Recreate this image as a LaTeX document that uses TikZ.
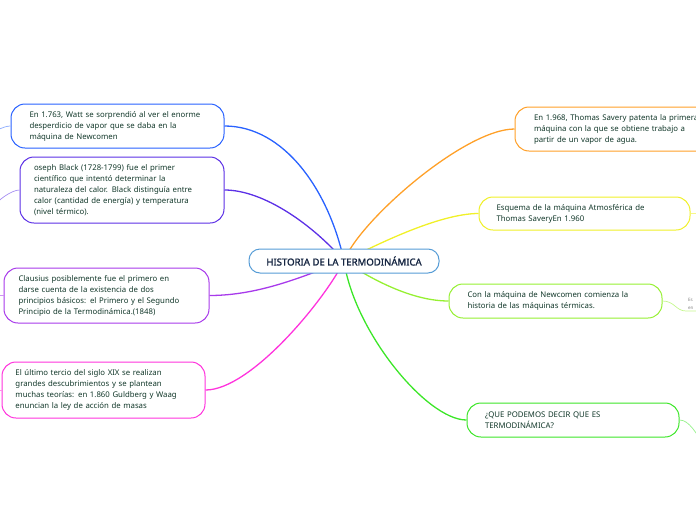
\documentclass[tikz,border=0pt]{standalone}
\usepackage{fontspec}
\setmainfont{Noto Sans}
\newfontfamily\negrita[FakeBold=1.6]{Noto Sans}
\usepackage{xcolor}
\usepackage{tikz}
\usetikzlibrary{backgrounds}
\definecolor{texto}{RGB}{18,56,42}
\definecolor{marino}{RGB}{22,38,66}
\definecolor{celeste}{RGB}{86,156,214}
\definecolor{azul}{RGB}{41,98,255}
\definecolor{indigo}{RGB}{92,48,230}
\definecolor{morado}{RGB}{168,58,235}
\definecolor{magenta}{RGB}{255,51,221}
\definecolor{naranja}{RGB}{255,160,40}
\definecolor{amarillo}{RGB}{240,240,40}
\definecolor{lima}{RGB}{150,240,50}
\definecolor{verde}{RGB}{60,230,40}
\tikzset{
  idea/.style={draw=#1,fill=white,line width=1pt,rounded corners=14pt,align=left,
    text width=176pt,text=texto,font=\fontsize{7.8}{11}\selectfont},
  raiz/.style={draw=celeste,fill=white,line width=1pt,rounded corners=11pt,
    minimum width=190pt,minimum height=24pt,text=marino,font=\fontsize{9.6}{11}\negrita},
  rama/.style={draw=#1,line width=1.3pt},
  cola/.style={draw=#1!55,line width=.7pt},
  nota/.style={inner xsep=2pt,inner ysep=1.5pt,align=left,text=gray,font=\fontsize{4.5}{7.5}\selectfont}
}
\begin{document}
\begin{tikzpicture}[x=1pt,y=-1pt]
\useasboundingbox (0,0) rectangle (696,520);
\node[raiz] (raiz) at (344,261) {HISTORIA DE LA TERMODINÁMICA};
\node[idea=azul,minimum width=213pt,minimum height=44pt] (watt) at (117.5,126)
  {En 1.763, Watt se sorprendió al ver el enorme\\desperdicio de vapor que se daba en la\\máquina de Newcomen};
\node[idea=indigo,minimum width=204pt,minimum height=66pt] (black) at (122,190)
  {oseph Black (1728-1799) fue el primer\\científico que intentó determinar la\\naturaleza del calor. Black distinguía entre\\calor (cantidad de energía) y temperatura\\(nivel térmico).};
\node[idea=morado,minimum width=205pt,minimum height=55pt] (clausius) at (106.5,295.5)
  {Clausius posiblemente fue el primero en\\darse cuenta de la existencia de dos\\principios básicos: el Primero y el Segundo\\Principio de la Termodinámica.(1848)};
\node[idea=magenta,minimum width=203pt,minimum height=56pt] (siglo) at (103.5,390)
  {El último tercio del siglo XIX se realizan\\grandes descubrimientos y se plantean\\muchas teorías: en 1.860 Guldberg y Waag\\enuncian la ley de acción de masas};
\node[idea=naranja,text width=200pt,minimum width=238pt,minimum height=44pt] (savery) at (634,129)
  {En 1.968, Thomas Savery patenta la primera\\máquina con la que se obtiene trabajo a\\partir de un vapor de agua.};
\node[idea=amarillo,minimum width=211pt,minimum height=33pt] (esquema) at (584.5,213.5)
  {Esquema de la máquina Atmosférica de\\Thomas SaveryEn 1.960};
\node[idea=lima,minimum width=213pt,minimum height=34pt] (newcomen) at (555.5,301)
  {Con la máquina de Newcomen comienza la\\historia de las máquinas térmicas.};
\node[idea=verde,minimum width=212pt,minimum height=34pt] (pregunta) at (573,420)
  {¿QUE PODEMOS DECIR QUE ES\\TERMODINÁMICA?};
\node[nota,anchor=south west] (maquinas) at (686,311) {Es\\en};
\coordinate (wattfin) at (-12,134);
\coordinate (blackfin) at (-8,208);
\coordinate (clausiusfin) at (-10,295.5);
\coordinate (siglofin) at (-10,390);
\coordinate (esquemafin) at (710,213.5);
\coordinate (preguntafin) at (704,444);
\begin{scope}[on background layer]
\draw[rama=azul] (watt.east) .. controls +(60,0) and +(-15,-70) .. (raiz.center);
\draw[rama=indigo] (black.east) .. controls +(40,0) and +(-30,-35) .. (raiz.center);
\draw[rama=morado] (clausius.east) .. controls +(50,0) and +(-40,15) .. (raiz.center);
\draw[rama=magenta] (siglo.east) .. controls +(45,0) and +(-20,40) .. (raiz.center);
\draw[rama=naranja] (savery.west) .. controls +(-50,0) and +(15,-40) .. (raiz.center);
\draw[rama=amarillo] (esquema.west) .. controls +(-40,0) and +(30,-15) .. (raiz.center);
\draw[rama=lima] (newcomen.west) .. controls +(-35,0) and +(30,20) .. (raiz.center);
\draw[rama=verde] (pregunta.west) .. controls +(-40,0) and +(10,70) .. (raiz.center);
\end{scope}
\draw[cola=azul] (watt.west) .. controls +(-7,0) and +(6,-2) .. (wattfin);
\draw[cola=indigo] (black.west) .. controls +(-8,0) and +(6,-8) .. (blackfin);
\draw[cola=morado] (clausius.west) -- (clausiusfin);
\draw[cola=magenta] (siglo.west) -- (siglofin);
\draw[cola=amarillo] (esquema.east) -- (esquemafin);
\draw[cola=lima] (newcomen.east) .. controls +(12,0) and +(-10,0) .. (maquinas.south west) -- +(20,0);
\draw[cola=verde] (pregunta.east) .. controls +(10,0) and +(-8,-10) .. (preguntafin);
\end{tikzpicture}
\end{document}
